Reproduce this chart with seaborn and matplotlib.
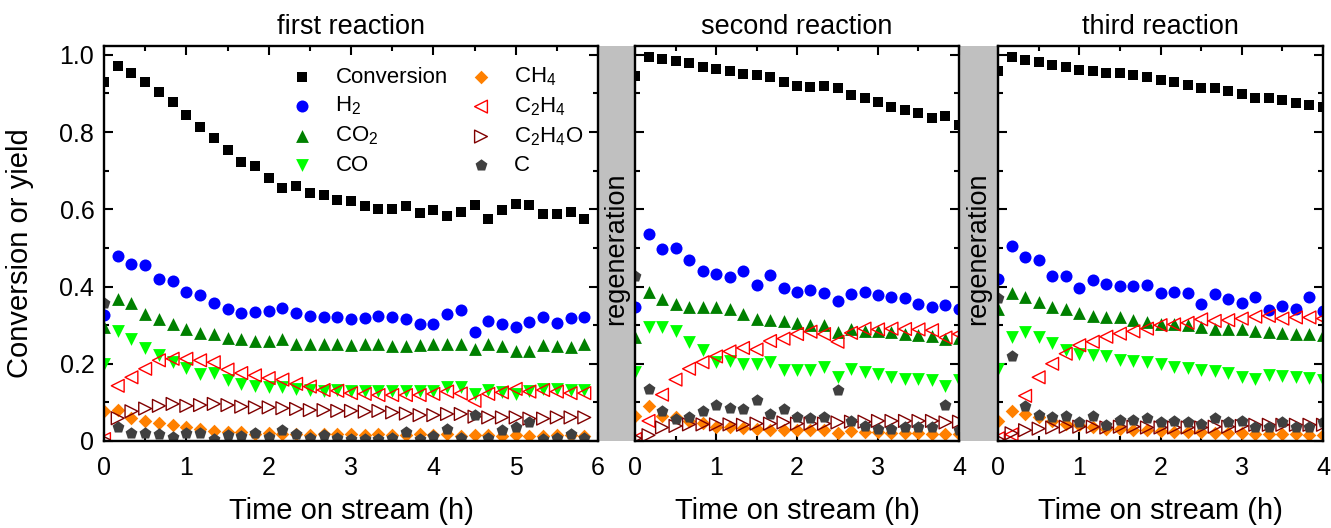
import matplotlib
matplotlib.use("Agg")
from matplotlib import pyplot as plt
from matplotlib.ticker import MultipleLocator, FuncFormatter
import pandas as pd
import seaborn as sns

# time on stream, minutes
minutes_1 = [0, 10, 20, 30, 40, 50, 60, 70, 80, 90, 100, 110, 120, 130, 140, 150, 160, 170,
             180, 190, 200, 210, 220, 230, 240, 250, 260, 270, 280, 290, 300, 310, 320, 330, 340, 350]
minutes_2 = [0, 10, 20, 30, 40, 50, 60, 70, 80, 90, 100, 110, 120, 130, 140, 150, 160, 170,
             180, 190, 200, 210, 220, 230, 240]
minutes_3 = [0, 10, 20, 30, 40, 50, 60, 70, 80, 90, 100, 110, 120, 130, 140, 150, 160, 170,
             180, 190, 200, 210, 220, 230, 240]

# first reaction
conv_1 = [0.930, 0.972, 0.952, 0.929, 0.904, 0.878, 0.845, 0.813, 0.785, 0.754, 0.722, 0.712,
          0.682, 0.654, 0.660, 0.643, 0.636, 0.625, 0.621, 0.608, 0.601, 0.601, 0.608, 0.590,
          0.599, 0.582, 0.592, 0.611, 0.575, 0.599, 0.614, 0.610, 0.588, 0.589, 0.594, 0.576]
h2_1 = [0.326, 0.480, 0.458, 0.455, 0.419, 0.415, 0.386, 0.377, 0.357, 0.341, 0.332, 0.333,
        0.337, 0.345, 0.332, 0.323, 0.322, 0.320, 0.315, 0.319, 0.323, 0.322, 0.315, 0.304,
        0.302, 0.330, 0.339, 0.283, 0.310, 0.302, 0.294, 0.309, 0.322, 0.306, 0.319, 0.322]
co2_1 = [0.296, 0.368, 0.357, 0.330, 0.317, 0.304, 0.291, 0.280, 0.277, 0.268, 0.264, 0.258,
         0.258, 0.263, 0.250, 0.250, 0.250, 0.252, 0.248, 0.250, 0.250, 0.246, 0.246, 0.248,
         0.252, 0.250, 0.252, 0.237, 0.252, 0.246, 0.233, 0.233, 0.248, 0.246, 0.243, 0.250]
co_1 = [0.200, 0.285, 0.265, 0.241, 0.222, 0.204, 0.189, 0.174, 0.176, 0.158, 0.148, 0.143,
        0.141, 0.141, 0.135, 0.132, 0.130, 0.132, 0.130, 0.130, 0.129, 0.129, 0.129, 0.129,
        0.129, 0.139, 0.141, 0.122, 0.132, 0.126, 0.122, 0.130, 0.135, 0.135, 0.133, 0.133]
ch4_1 = [0.078, 0.080, 0.059, 0.052, 0.046, 0.041, 0.035, 0.032, 0.026, 0.023, 0.023, 0.019,
         0.022, 0.017, 0.017, 0.016, 0.017, 0.019, 0.017, 0.016, 0.017, 0.015, 0.016, 0.017,
         0.015, 0.017, 0.013, 0.015, 0.016, 0.013, 0.016, 0.013, 0.013, 0.015, 0.016, 0.013]
c2h4_1 = [0.005, 0.143, 0.165, 0.187, 0.209, 0.213, 0.213, 0.209, 0.204, 0.185, 0.176, 0.170,
          0.163, 0.159, 0.148, 0.141, 0.132, 0.130, 0.124, 0.122, 0.119, 0.119, 0.119, 0.119,
          0.122, 0.128, 0.123, 0.104, 0.122, 0.126, 0.135, 0.128, 0.132, 0.128, 0.124, 0.124]
c2h4o_1 = [0.003, 0.059, 0.077, 0.084, 0.091, 0.096, 0.091, 0.093, 0.096, 0.093, 0.089, 0.087,
           0.087, 0.085, 0.083, 0.080, 0.080, 0.078, 0.078, 0.076, 0.078, 0.074, 0.071, 0.067,
           0.067, 0.070, 0.070, 0.063, 0.061, 0.061, 0.061, 0.058, 0.058, 0.061, 0.061, 0.061]
c_1 = [0.357, 0.035, 0.022, 0.022, 0.017, 0.011, 0.020, 0.020, 0.004, 0.016, 0.013, 0.020,
       0.010, 0.028, 0.017, 0.007, 0.016, 0.007, 0.006, 0.006, 0.006, 0.007, 0.024, 0.004,
       0.013, 0.030, 0.009, 0.068, 0.009, 0.028, 0.037, 0.048, 0.004, 0.007, 0.017, 0.007]

# second reaction
conv_2 = [0.945, 0.994, 0.989, 0.984, 0.978, 0.969, 0.963, 0.958, 0.950, 0.947, 0.943, 0.929,
          0.919, 0.917, 0.919, 0.915, 0.897, 0.888, 0.877, 0.866, 0.856, 0.849, 0.836, 0.842, 0.819]
h2_2 = [0.348, 0.536, 0.498, 0.499, 0.468, 0.439, 0.433, 0.425, 0.440, 0.405, 0.429, 0.396,
        0.386, 0.391, 0.383, 0.363, 0.381, 0.386, 0.378, 0.372, 0.370, 0.356, 0.348, 0.352, 0.343]
co2_2 = [0.269, 0.387, 0.368, 0.354, 0.347, 0.348, 0.346, 0.341, 0.330, 0.315, 0.314, 0.310,
         0.305, 0.300, 0.300, 0.283, 0.290, 0.286, 0.285, 0.283, 0.278, 0.275, 0.272, 0.264, 0.268]
co_2 = [0.178, 0.296, 0.296, 0.284, 0.257, 0.235, 0.204, 0.206, 0.200, 0.200, 0.204, 0.183,
        0.183, 0.183, 0.191, 0.165, 0.187, 0.178, 0.174, 0.165, 0.161, 0.161, 0.157, 0.143, 0.157]
ch4_2 = [0.065, 0.090, 0.065, 0.063, 0.052, 0.046, 0.037, 0.035, 0.033, 0.030, 0.028, 0.028,
         0.028, 0.028, 0.028, 0.022, 0.026, 0.024, 0.024, 0.022, 0.022, 0.020, 0.017, 0.017, 0.017]
c2h4_2 = [0.005, 0.052, 0.120, 0.159, 0.187, 0.204, 0.219, 0.232, 0.241, 0.237, 0.259, 0.265,
          0.277, 0.283, 0.277, 0.257, 0.280, 0.291, 0.289, 0.291, 0.290, 0.289, 0.287, 0.268, 0.277]
c2h4o_2 = [0.007, 0.015, 0.035, 0.039, 0.043, 0.043, 0.043, 0.043, 0.042, 0.045, 0.045, 0.048,
           0.045, 0.045, 0.045, 0.048, 0.050, 0.050, 0.052, 0.052, 0.052, 0.052, 0.052, 0.048, 0.050]
c_2 = [0.428, 0.135, 0.077, 0.057, 0.063, 0.077, 0.094, 0.085, 0.083, 0.106, 0.070, 0.083,
       0.063, 0.059, 0.061, 0.132, 0.052, 0.039, 0.032, 0.030, 0.035, 0.037, 0.037, 0.094, 0.028]

# third reaction
conv_3 = [0.959, 0.994, 0.987, 0.981, 0.975, 0.969, 0.962, 0.959, 0.954, 0.952, 0.947, 0.943,
          0.934, 0.930, 0.923, 0.915, 0.915, 0.906, 0.898, 0.889, 0.889, 0.884, 0.876, 0.869, 0.864]
h2_3 = [0.420, 0.504, 0.477, 0.468, 0.428, 0.428, 0.396, 0.417, 0.406, 0.402, 0.402, 0.404,
        0.384, 0.385, 0.384, 0.355, 0.380, 0.367, 0.357, 0.372, 0.339, 0.350, 0.343, 0.374, 0.337]
co2_3 = [0.343, 0.383, 0.374, 0.361, 0.348, 0.341, 0.332, 0.323, 0.322, 0.320, 0.313, 0.309,
         0.304, 0.302, 0.300, 0.296, 0.291, 0.291, 0.291, 0.285, 0.283, 0.280, 0.278, 0.278, 0.274]
co_3 = [0.187, 0.270, 0.283, 0.270, 0.254, 0.235, 0.226, 0.222, 0.219, 0.210, 0.207, 0.204,
        0.200, 0.191, 0.190, 0.183, 0.180, 0.177, 0.165, 0.161, 0.170, 0.168, 0.165, 0.163, 0.158]
ch4_3 = [0.052, 0.077, 0.070, 0.061, 0.052, 0.045, 0.042, 0.035, 0.032, 0.030, 0.028, 0.028,
         0.026, 0.024, 0.024, 0.023, 0.022, 0.020, 0.020, 0.017, 0.017, 0.017, 0.017, 0.016, 0.016]
c2h4_3 = [0.007, 0.017, 0.117, 0.165, 0.200, 0.226, 0.248, 0.257, 0.270, 0.278, 0.284, 0.291,
          0.300, 0.302, 0.306, 0.315, 0.311, 0.313, 0.317, 0.322, 0.324, 0.317, 0.320, 0.320, 0.317]
c2h4o_3 = [0.004, 0.020, 0.028, 0.032, 0.035, 0.037, 0.037, 0.037, 0.035, 0.037, 0.037, 0.035,
           0.035, 0.035, 0.035, 0.035, 0.037, 0.037, 0.039, 0.042, 0.042, 0.042, 0.042, 0.042, 0.042]
c_3 = [0.370, 0.219, 0.091, 0.067, 0.061, 0.065, 0.048, 0.065, 0.042, 0.054, 0.054, 0.059,
       0.048, 0.052, 0.048, 0.045, 0.059, 0.048, 0.052, 0.037, 0.037, 0.048, 0.037, 0.037, 0.048]

panel_titles = ["first reaction", "second reaction", "third reaction"]
species_labels = ["Conversion", "H$_2$", "CO$_2$", "CO", "CH$_4$", "C$_2$H$_4$", "C$_2$H$_4$O", "C"]

panels = [
    (minutes_1, [conv_1, h2_1, co2_1, co_1, ch4_1, c2h4_1, c2h4o_1, c_1], 6),
    (minutes_2, [conv_2, h2_2, co2_2, co_2, ch4_2, c2h4_2, c2h4o_2, c_2], 4),
    (minutes_3, [conv_3, h2_3, co2_3, co_3, ch4_3, c2h4_3, c2h4o_3, c_3], 4),
]

# marker, colour, filled, size
styles = {
    "Conversion": ("s", "#000000", True, 58),
    "H$_2$": ("o", "#0000ff", True, 75),
    "CO$_2$": ("^", "#008000", True, 85),
    "CO": ("v", "#00ff00", True, 85),
    "CH$_4$": ("D", "#ff8000", True, 48),
    "C$_2$H$_4$": ("<", "#ff0000", False, 85),
    "C$_2$H$_4$O": (">", "#800000", False, 85),
    "C": ("p", "#404040", True, 80),
}

sns.set_style("ticks")
plt.rcParams["font.family"] = ["Liberation Sans", "DejaVu Sans"]
plt.rcParams["mathtext.fontset"] = "custom"
plt.rcParams["mathtext.rm"] = "Liberation Sans"
plt.rcParams["mathtext.default"] = "regular"
plt.rcParams["text.color"] = "black"
plt.rcParams["axes.labelcolor"] = "black"
plt.rcParams["xtick.color"] = "black"
plt.rcParams["ytick.color"] = "black"

W, H = 1331, 528
fig = plt.figure(figsize=(W / 100, H / 100), dpi=100)

bottom = (H - 441) / H
height = (441 - 46) / H
edges = [(104, 598), (635, 959), (998, 1323)]
bands = [(598, 635), (959, 998)]

for x0, x1 in bands:
    bax = fig.add_axes([x0 / W, bottom, (x1 - x0) / W, height])
    bax.set_facecolor("#c0c0c0")
    bax.set_xticks([])
    bax.set_yticks([])
    for sp in bax.spines.values():
        sp.set_visible(False)
    bax.text(0.5, 0.487, "regeneration", rotation=90, ha="center", va="center",
             fontsize=19.5, color="black", transform=bax.transAxes)

for i, ((x0, x1), (minutes, series, tmax)) in enumerate(zip(edges, panels)):
    ax = fig.add_axes([x0 / W, bottom, (x1 - x0) / W, height])
    hours = [m / 60 for m in minutes]
    for label, values in zip(species_labels, series):
        marker, color, filled, size = styles[label]
        df = pd.DataFrame({"time": hours, "value": values})
        if filled:
            sns.scatterplot(data=df, x="time", y="value", ax=ax, marker=marker, s=size,
                            color=color, edgecolor=color, linewidth=0,
                            label=label if i == 0 else None, legend=False)
        else:
            sns.scatterplot(data=df, x="time", y="value", ax=ax, marker=marker, s=size,
                            facecolor="none", edgecolor=color, linewidth=1.0,
                            label=label if i == 0 else None, legend=False)

    ax.set_xlim(0, tmax)
    ax.set_ylim(0, 1.023)
    ax.xaxis.set_major_locator(MultipleLocator(1))
    ax.xaxis.set_minor_locator(MultipleLocator(0.5))
    ax.yaxis.set_major_locator(MultipleLocator(0.2))
    ax.yaxis.set_minor_locator(MultipleLocator(0.1))
    ax.yaxis.set_major_formatter(FuncFormatter(lambda v, p: "0" if abs(v) < 1e-9 else f"{v:.1f}"))
    ax.tick_params(which="both", direction="in", top=True, right=True, width=1.5, color="black")
    ax.tick_params(which="major", length=6.5)
    ax.tick_params(which="minor", length=3.3)
    ax.tick_params(axis="x", which="major", labelsize=18, pad=11, labelcolor="black")
    ax.tick_params(axis="y", which="major", labelsize=18, pad=7, labelcolor="black")
    for sp in ax.spines.values():
        sp.set_linewidth(1.7)
        sp.set_color("black")
    ax.set_xlabel("Time on stream (h)", fontsize=21, labelpad=12)
    ax.set_title(panel_titles[i], fontsize=19.5, pad=9)
    if i == 0:
        ax.set_ylabel("Conversion or yield", fontsize=21)
        ax.yaxis.set_label_coords(-0.142, 0.476)
        ax.legend(ncol=2, loc="upper left", bbox_to_anchor=(0.347, 0.99), frameon=False,
                  fontsize=16, handlelength=1.0, handletextpad=1.0, columnspacing=1.0,
                  labelspacing=0.33, borderpad=0.2, scatterpoints=1)
    else:
        ax.set_ylabel("")
        ax.tick_params(axis="y", labelleft=False)

fig.savefig("out.png", dpi=100)
